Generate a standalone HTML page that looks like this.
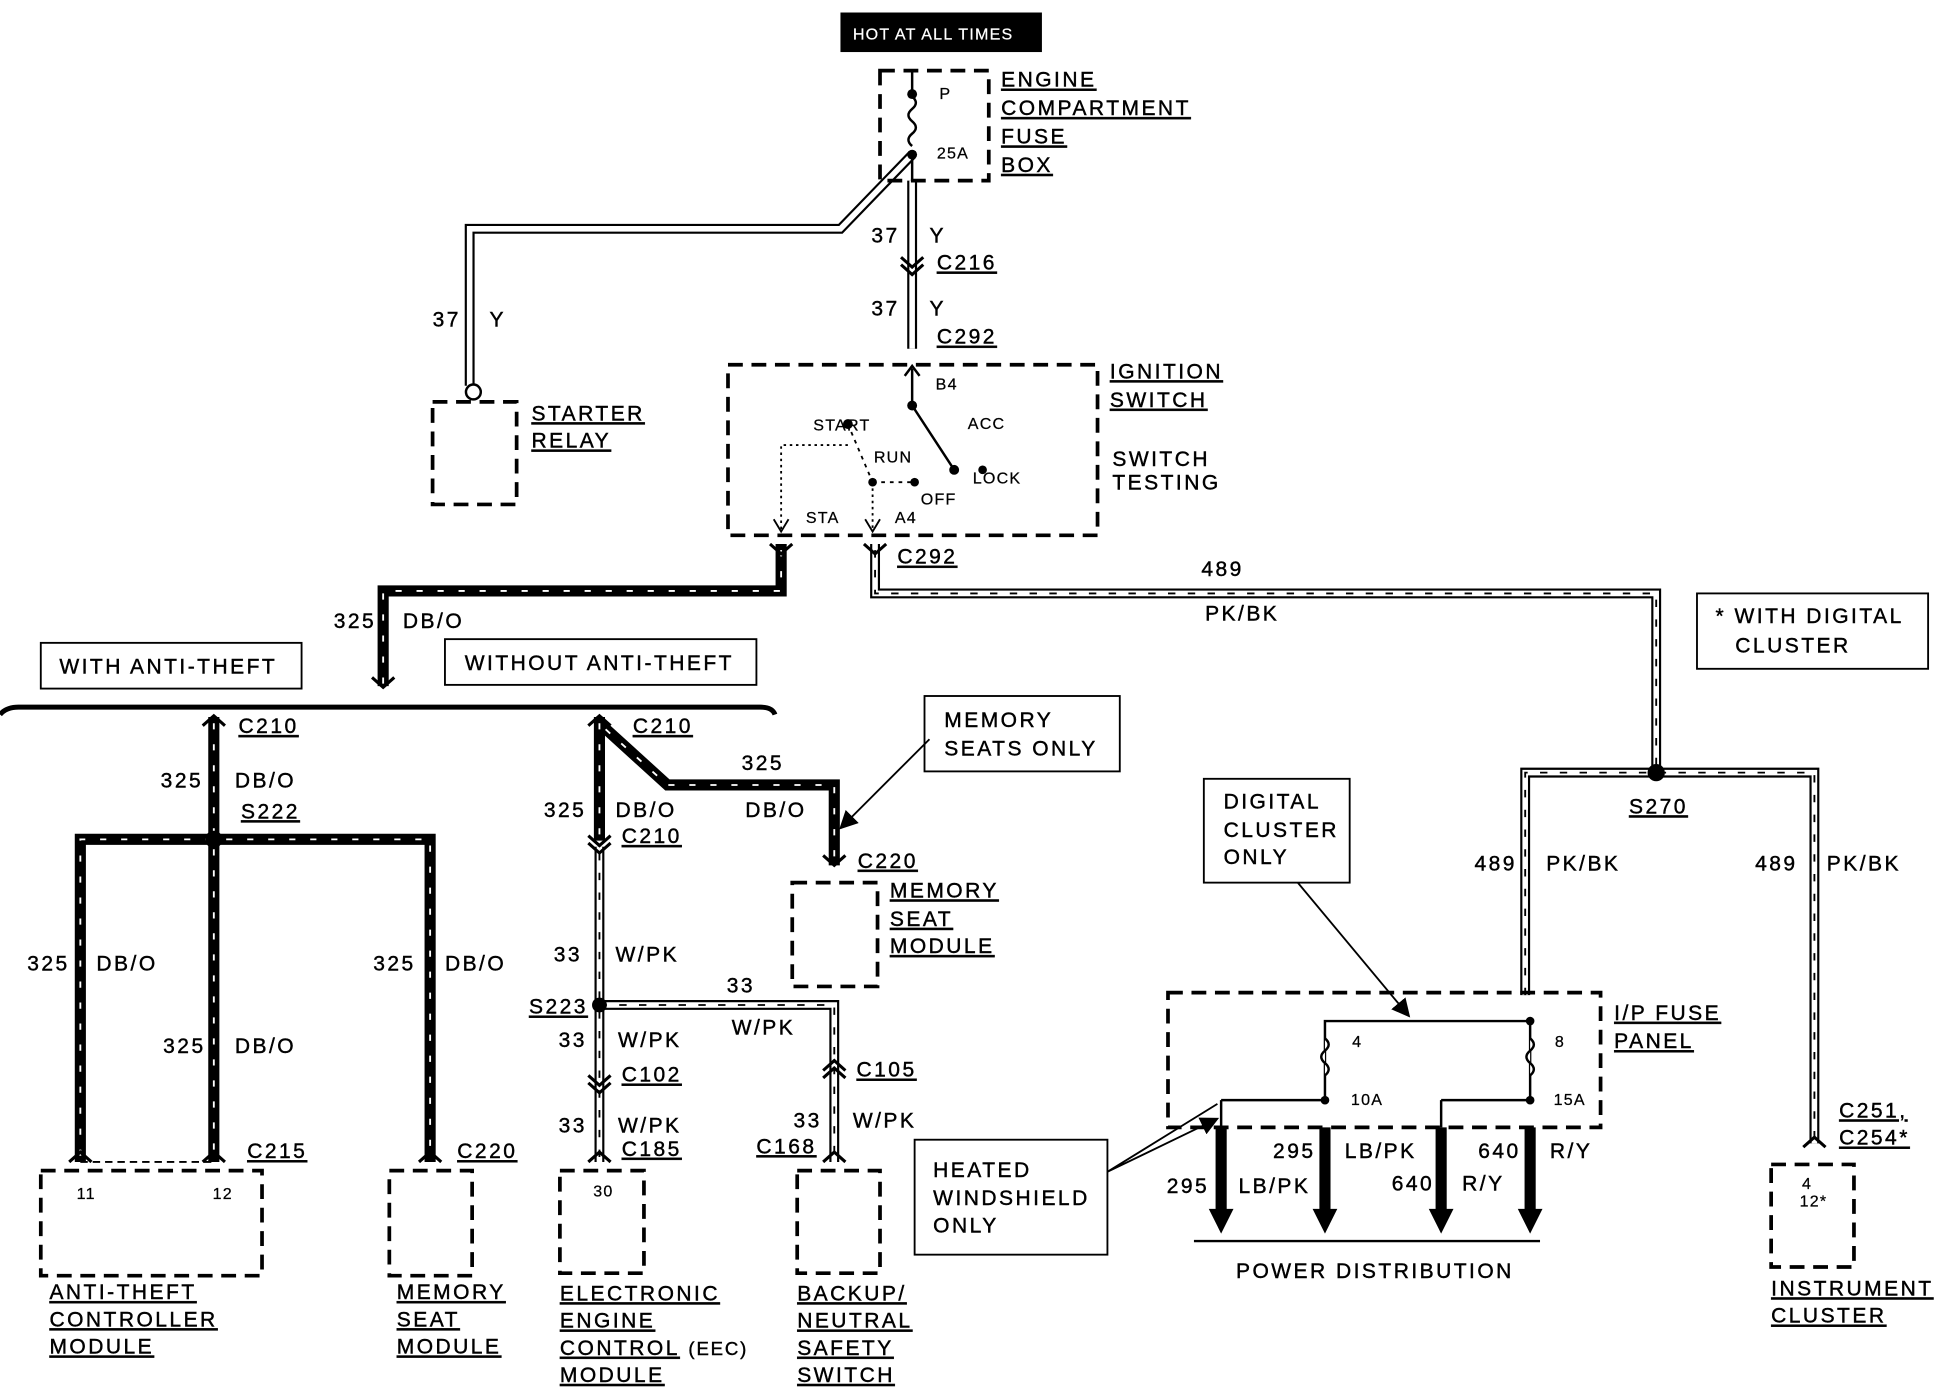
<!DOCTYPE html>
<html><head><meta charset="utf-8"><style>
html,body{margin:0;padding:0;background:#fff;}
svg{display:block;}
text{font-family:"Liberation Sans",sans-serif;font-size:17px;fill:#000;letter-spacing:2px;stroke:#000;stroke-width:0.35;}
.s{font-size:13px;letter-spacing:1px;stroke-width:0.2;}
.u{text-decoration:underline;}
.d{fill:none;stroke:#000;stroke-width:3;stroke-dasharray:12,7;}
</style></head><body>
<svg width="1938" height="1392" viewBox="0 0 1568 1126" xmlns="http://www.w3.org/2000/svg">
<defs>
<marker id="ar" markerWidth="10" markerHeight="10" refX="9" refY="5" orient="auto"><path d="M0,0 L10,5 L0,10 z"/></marker>
</defs>
<g fill="none">
 <g stroke="#000" stroke-width="8">
  <path d="M738,146 V282"/>
  <path d="M738,125 L680,185 H380 V312"/>
  <path d="M708,440 V480 H1340 V625"/>
  <path d="M1234,805 V625 H1468 V925"/>
  <path d="M485,685 V940"/>
  <path d="M485,813 H675 V940"/>
 </g>
 <g stroke="#fff" stroke-width="4.5">
  <path d="M738,146 V282"/>
  <path d="M738,125 L680,185 H380 V312"/>
  <path d="M708,440 V480 H1340 V625"/>
  <path d="M1234,805 V625 H1468 V925"/>
  <path d="M485,685 V940"/>
  <path d="M485,813 H675 V940"/>
 </g>
 <g stroke="#000" stroke-width="1.5" stroke-dasharray="6,10">
  <path d="M708,445 V480 H1340 V625"/>
  <path d="M1234,805 V625 H1468 V925"/>
  <path d="M485,690 V940"/>
  <path d="M485,813 H675 V940"/>
 </g>
</g>
<g fill="none" stroke="#000" stroke-width="9">
 <path d="M632,440 V478 H310 V555"/>
 <path d="M173,580 V940"/>
 <path d="M65,940 V679 H348 V940"/>
 <path d="M485,580 V680"/>
 <path d="M485,585 L540,635 H675 V700"/>
 <path d="M988,912 V985"/><path d="M1072,912 V985"/><path d="M1166,912 V985"/><path d="M1238,912 V985"/>
</g>
<g fill="none" stroke="#fff" stroke-width="1.5" stroke-dasharray="5,12">
 <path d="M632,445 V478 H310 V555"/>
 <path d="M173,585 V935"/>
 <path d="M65,935 V679 H348 V935"/>
 <path d="M485,585 V675"/>
 <path d="M490,590 L540,635 H675 V695"/>
</g>
<g fill="none" stroke="#000" stroke-width="2.5">
 <path d="M729,208 L738,216 L747,208 M729,214 L738,222 L747,214"/>
 <path d="M301,548 L310,556 L319,548"/>
 <path d="M164,587 L173,579 L182,587"/><path d="M476,587 L485,579 L494,587"/>
 <path d="M476,676 L485,684 L494,676 M476,682 L485,690 L494,682"/>
 <path d="M666,692 L675,700 L684,692"/>
 <path d="M476,870 L485,878 L494,870 M476,876 L485,884 L494,876"/>
 <path d="M666,866 L675,858 L684,866 M666,872 L675,864 L684,872"/>
 <path d="M56,940 L65,932 L74,940 M164,940 L173,932 L182,940 M339,940 L348,932 L357,940 M476,940 L485,932 L494,940 M666,940 L675,932 L684,940 M1459,928 L1468,920 L1477,928"/>
 <path d="M623,440 L632,448 L641,440 M699,440 L708,448 L717,440"/>
</g>
<g fill="#000"><path d="M978,978 L998,978 L988,998z"/><path d="M1062,978 L1082,978 L1072,998z"/><path d="M1156,978 L1176,978 L1166,998z"/><path d="M1228,978 L1248,978 L1238,998z"/></g>
<path d="M966,1004 H1246" stroke="#000" stroke-width="2"/>
<path d="M0,578 Q5,572 15,572 H615 Q625,572 627,578" fill="none" stroke="#000" stroke-width="4"/>
<rect x="680" y="10" width="163" height="32" fill="#000"/>
<text x="690" y="32" class="s" style="fill:#fff;stroke:#fff">HOT AT ALL TIMES</text>
<rect x="712" y="57" width="88" height="89" class="d"/>
<path d="M738,57 V75 M738,125 V146" stroke="#000" stroke-width="2"/>
<path d="M738,78 q6,5 0,10 q-6,5 0,10 q6,5 0,10 q-6,5 0,10" fill="none" stroke="#000" stroke-width="2"/>
<circle cx="738" cy="76" r="4"/><circle cx="738" cy="125" r="4"/>
<text x="760" y="80" class="s">P</text><text x="758" y="128" class="s">25A</text>
<text x="810" y="70" class="u">ENGINE</text><text x="810" y="93" class="u">COMPARTMENT</text><text x="810" y="116" class="u">FUSE</text><text x="810" y="139" class="u">BOX</text>
<text x="705" y="196">37</text><text x="752" y="196">Y</text><text x="758" y="218" class="u">C216</text>
<text x="705" y="255">37</text><text x="752" y="255">Y</text><text x="758" y="278" class="u">C292</text>
<text x="350" y="264">37</text><text x="396" y="264">Y</text>
<circle cx="383" cy="317" r="6" fill="#fff" stroke="#000" stroke-width="2"/>
<rect x="350" y="325" width="68" height="83" class="d"/>
<text x="430" y="340" class="u">STARTER</text><text x="430" y="362" class="u">RELAY</text>
<rect x="589" y="295" width="299" height="138" class="d"/>
<text x="898" y="306" class="u">IGNITION</text><text x="898" y="329" class="u">SWITCH</text>
<text x="900" y="377">SWITCH</text><text x="900" y="396">TESTING</text>
<path d="M738,298 V328 L772,380" stroke="#000" stroke-width="2" fill="none"/>
<path d="M732,304 L738,296 L744,304" stroke="#000" stroke-width="2" fill="none"/>
<circle cx="738" cy="328" r="4"/><circle cx="772" cy="380" r="4"/><circle cx="686" cy="343" r="4"/>
<circle cx="706" cy="390" r="3.5"/><circle cx="740" cy="390" r="3.5"/><circle cx="795" cy="380" r="3.5"/>
<path d="M686,343 L706,390 M706,390 H740" stroke="#000" stroke-width="1.5" stroke-dasharray="3,4"/>
<path d="M686,360 H632 V428 M706,390 V428" stroke="#000" stroke-width="1.5" stroke-dasharray="2,3" fill="none"/>
<path d="M626,420 L632,430 L638,420 M700,420 L706,430 L712,420" stroke="#000" stroke-width="1.5" fill="none"/>
<text x="757" y="315" class="s">B4</text><text x="658" y="348" class="s">START</text><text x="783" y="347" class="s">ACC</text>
<text x="707" y="374" class="s">RUN</text><text x="787" y="391" class="s">LOCK</text><text x="745" y="408" class="s">OFF</text>
<text x="652" y="423" class="s">STA</text><text x="724" y="423" class="s">A4</text>
<text x="726" y="456" class="u">C292</text>
<text x="972" y="466">489</text><text x="975" y="502">PK/BK</text>
<text x="270" y="508">325</text><text x="326" y="508">DB/O</text>
<rect x="33" y="520" width="211" height="37" fill="none" stroke="#000" stroke-width="1.5"/><text x="48" y="545">WITH ANTI-THEFT</text>
<rect x="360" y="517" width="252" height="37" fill="none" stroke="#000" stroke-width="1.5"/><text x="376" y="542">WITHOUT ANTI-THEFT</text>
<rect x="1373" y="480" width="187" height="61" fill="none" stroke="#000" stroke-width="1.5"/><text x="1388" y="504">* WITH DIGITAL</text><text x="1404" y="528">CLUSTER</text>
<text x="193" y="593" class="u">C210</text><text x="130" y="637">325</text><text x="190" y="637">DB/O</text>
<text x="195" y="662" class="u">S222</text><circle cx="173" cy="679" r="7"/>
<text x="22" y="785">325</text><text x="78" y="785">DB/O</text>
<text x="132" y="852">325</text><text x="190" y="852">DB/O</text>
<text x="302" y="785">325</text><text x="360" y="785">DB/O</text>
<text x="200" y="937" class="u">C215</text><text x="370" y="937" class="u">C220</text>
<path d="M65,940 H173" stroke="#000" stroke-width="1.5" stroke-dasharray="6,4"/>
<rect x="33" y="947" width="179" height="85" class="d"/><text x="62" y="970" class="s">11</text><text x="172" y="970" class="s">12</text>
<rect x="315" y="947" width="67" height="85" class="d"/>
<text x="40" y="1051" class="u">ANTI-THEFT</text><text x="40" y="1073" class="u">CONTROLLER</text><text x="40" y="1095" class="u">MODULE</text>
<text x="321" y="1051" class="u">MEMORY</text><text x="321" y="1073" class="u">SEAT</text><text x="321" y="1095" class="u">MODULE</text>
<text x="512" y="593" class="u">C210</text><text x="600" y="623">325</text>
<text x="440" y="661">325</text><text x="498" y="661">DB/O</text><text x="603" y="661">DB/O</text>
<text x="503" y="682" class="u">C210</text>
<rect x="748" y="563" width="158" height="61" fill="none" stroke="#000" stroke-width="1.5"/><text x="764" y="588">MEMORY</text><text x="764" y="611">SEATS ONLY</text>
<path d="M752,598 L680,670" stroke="#000" stroke-width="1.5" marker-end="url(#ar)"/>
<text x="694" y="702" class="u">C220</text>
<rect x="641" y="714" width="69" height="84" class="d"/>
<text x="720" y="726" class="u">MEMORY</text><text x="720" y="749" class="u">SEAT</text><text x="720" y="771" class="u">MODULE</text>
<text x="448" y="778">33</text><text x="498" y="778">W/PK</text>
<circle cx="485" cy="813" r="6"/><text x="428" y="820" class="u">S223</text>
<text x="588" y="803">33</text><text x="592" y="837">W/PK</text>
<text x="452" y="847">33</text><text x="500" y="847">W/PK</text><text x="503" y="875" class="u">C102</text>
<text x="693" y="871" class="u">C105</text>
<text x="452" y="916">33</text><text x="500" y="916">W/PK</text><text x="503" y="935" class="u">C185</text>
<text x="642" y="912">33</text><text x="690" y="912">W/PK</text><text x="612" y="933" class="u">C168</text>
<rect x="453" y="947" width="68" height="83" class="d"/><text x="480" y="968" class="s">30</text>
<rect x="645" y="947" width="67" height="83" class="d"/>
<text x="453" y="1052" class="u">ELECTRONIC</text><text x="453" y="1074" class="u">ENGINE</text><text x="453" y="1096" class="u">CONTROL</text><text x="557" y="1096" style="font-size:15px;letter-spacing:1.5px">(EEC)</text><text x="453" y="1118" class="u">MODULE</text>
<text x="645" y="1052" class="u">BACKUP/</text><text x="645" y="1074" class="u">NEUTRAL</text><text x="645" y="1096" class="u">SAFETY</text><text x="645" y="1118" class="u">SWITCH</text>
<circle cx="1340" cy="625" r="7"/><text x="1318" y="658" class="u">S270</text>
<text x="1193" y="704">489</text><text x="1251" y="704">PK/BK</text><text x="1420" y="704">489</text><text x="1478" y="704">PK/BK</text>
<rect x="974" y="630" width="118" height="84" fill="none" stroke="#000" stroke-width="1.5"/>
<text x="990" y="654">DIGITAL</text><text x="990" y="677">CLUSTER</text><text x="990" y="699">ONLY</text>
<path d="M1050,714 L1140,822" stroke="#000" stroke-width="1.5" marker-end="url(#ar)"/>
<rect x="945" y="803" width="350" height="109" class="d"/>
<path d="M1072,890 V826 H1238 V890 M988,890 H1072 M1166,890 H1238 M988,890 V912 M1166,890 V912" fill="none" stroke="#000" stroke-width="2"/>
<path d="M1072,840 q6,5 0,10 q-6,5 0,10 q6,5 0,10 M1238,840 q6,5 0,10 q-6,5 0,10 q6,5 0,10" fill="#fff" stroke="#000" stroke-width="2"/>
<circle cx="1072" cy="890" r="3.5"/><circle cx="1238" cy="890" r="3.5"/><circle cx="1238" cy="826" r="3.5"/>
<text x="1094" y="847" class="s">4</text><text x="1258" y="847" class="s">8</text><text x="1093" y="894" class="s">10A</text><text x="1257" y="894" class="s">15A</text>
<text x="1306" y="825" class="u">I/P FUSE</text><text x="1306" y="848" class="u">PANEL</text>
<text x="1030" y="937">295</text><text x="1088" y="937">LB/PK</text><text x="1196" y="937">640</text><text x="1254" y="937">R/Y</text>
<text x="944" y="965">295</text><text x="1002" y="965">LB/PK</text><text x="1126" y="963">640</text><text x="1183" y="963">R/Y</text>
<text x="1000" y="1034">POWER DISTRIBUTION</text>
<rect x="740" y="922" width="156" height="93" fill="none" stroke="#000" stroke-width="1.5"/>
<text x="755" y="952">HEATED</text><text x="755" y="975">WINDSHIELD</text><text x="755" y="997">ONLY</text>
<path d="M896,948 L985,893 M896,948 L985,905" stroke="#000" stroke-width="1.5" marker-end="url(#ar)"/>
<text x="1488" y="904" class="u">C251,</text><text x="1488" y="926" class="u">C254*</text>
<rect x="1433" y="942" width="67" height="83" class="d"/><text x="1458" y="962" class="s">4</text><text x="1456" y="976" class="s">12*</text>
<text x="1433" y="1048" class="u">INSTRUMENT</text><text x="1433" y="1070" class="u">CLUSTER</text>
</svg>
</body></html>
